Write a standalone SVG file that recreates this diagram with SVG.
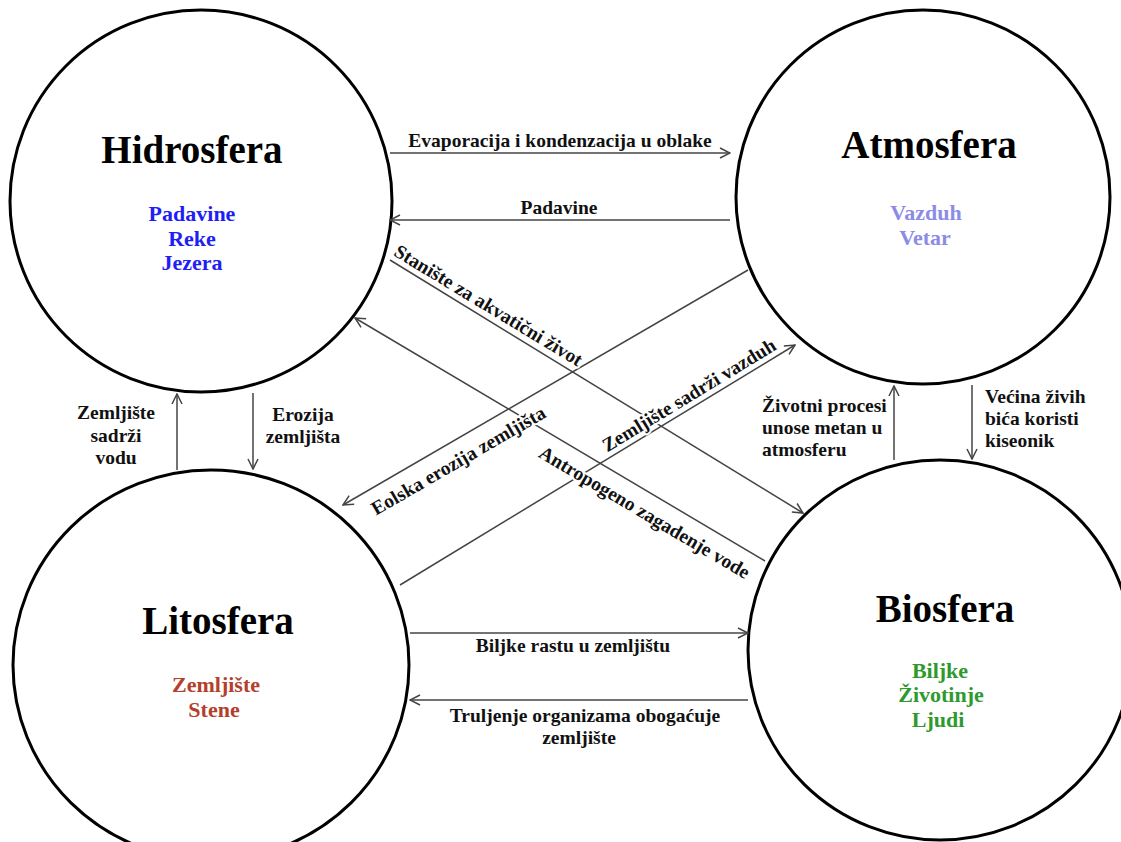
<svg xmlns="http://www.w3.org/2000/svg" width="1121" height="842" viewBox="0 0 1121 842">
<style>
.circ{fill:none;stroke:#000;stroke-width:3}
.title{font-family:"Liberation Serif","Times New Roman",serif;font-weight:bold;font-size:39px;fill:#000;text-anchor:middle}
.sub{font-family:"Liberation Serif","Times New Roman",serif;font-weight:bold;font-size:22px;text-anchor:middle}
.lbl{font-family:"Liberation Serif","Times New Roman",serif;font-weight:bold;font-size:19.5px;fill:#111}
.mid{text-anchor:middle}
.halo{stroke:#fff;stroke-width:4;paint-order:stroke;stroke-linejoin:round}
.edge{fill:none;stroke:#444;stroke-width:1.5}
</style>
<defs>
<marker id="ah" viewBox="0 0 12 12" refX="11" refY="6" markerWidth="12" markerHeight="12" markerUnits="userSpaceOnUse" orient="auto">
<path d="M1,1 L11,6 L1,11" fill="none" stroke="#444" stroke-width="1.5"/>
</marker>
</defs>
<rect width="1121" height="842" fill="#fff"/>

<g id="hidrosfera">
<circle class="circ" cx="201" cy="201" r="191"/>
<text class="title" x="192" y="163">Hidrosfera</text>
<text class="sub" fill="#1e1ef5" x="192" y="221">Padavine</text>
<text class="sub" fill="#1e1ef5" x="192" y="246">Reke</text>
<text class="sub" fill="#1e1ef5" x="192" y="270">Jezera</text>
</g>

<g id="atmosfera">
<circle class="circ" cx="923" cy="197" r="187"/>
<text class="title" x="929" y="158">Atmosfera</text>
<text class="sub" fill="#8c8ce6" x="926" y="220">Vazduh</text>
<text class="sub" fill="#8c8ce6" x="925" y="245">Vetar</text>
</g>

<g id="litosfera">
<ellipse class="circ" cx="211" cy="665" rx="198" ry="195"/>
<text class="title" x="218" y="634">Litosfera</text>
<text class="sub" fill="#b4402c" x="216" y="692">Zemljište</text>
<text class="sub" fill="#b4402c" x="214" y="717">Stene</text>
</g>

<g id="biosfera">
<ellipse class="circ" cx="940" cy="650" rx="192" ry="190"/>
<text class="title" x="945" y="622">Biosfera</text>
<text class="sub" fill="#2e9a2e" x="940" y="678">Biljke</text>
<text class="sub" fill="#2e9a2e" x="941" y="702">Životinje</text>
<text class="sub" fill="#2e9a2e" x="938" y="727">Ljudi</text>
</g>

<g id="connectors">
<path class="edge" d="M390,153 L730,153" marker-end="url(#ah)"/>
<path class="edge" d="M730,220 L390,220" marker-end="url(#ah)"/>
<path class="edge" d="M410,633 L748,633" marker-end="url(#ah)"/>
<path class="edge" d="M748,700 L410,700" marker-end="url(#ah)"/>
<path class="edge" d="M177,470 L177,394" marker-end="url(#ah)"/>
<path class="edge" d="M253,393 L253,469" marker-end="url(#ah)"/>
<path class="edge" d="M894,460 L894,386" marker-end="url(#ah)"/>
<path class="edge" d="M972,385 L972,459" marker-end="url(#ah)"/>
<path class="edge" d="M390,260 L803,513" marker-end="url(#ah)"/>
<path class="edge" d="M765,561 L355,318" marker-end="url(#ah)"/>
<path class="edge" d="M748,270 L343,505" marker-end="url(#ah)"/>
<path class="edge" d="M400,585 L795,345" marker-end="url(#ah)"/>

<text class="lbl mid" x="560" y="147">Evaporacija i kondenzacija u oblake</text>
<text class="lbl mid" x="559" y="214">Padavine</text>
<text class="lbl mid" x="573" y="652">Biljke rastu u zemljištu</text>
<text class="lbl mid" x="585" y="722">Truljenje organizama obogaćuje</text>
<text class="lbl mid" x="579" y="744">zemljište</text>
<text class="lbl mid" x="116" y="419">Zemljište</text>
<text class="lbl mid" x="116" y="442">sadrži</text>
<text class="lbl mid" x="116" y="464">vodu</text>
<text class="lbl mid" x="303" y="421">Erozija</text>
<text class="lbl mid" x="303" y="443">zemljišta</text>
<text class="lbl" x="762" y="412">Životni procesi</text>
<text class="lbl" x="762" y="434">unose metan u</text>
<text class="lbl" x="762" y="456">atmosferu</text>
<text class="lbl" x="985" y="403">Većina živih</text>
<text class="lbl" x="985" y="425">bića koristi</text>
<text class="lbl" x="985" y="447">kiseonik</text>

<text class="lbl mid halo" transform="translate(482,316) rotate(31.2)" x="0" y="-6">Stanište za akvatični život</text>
<text class="lbl mid halo" transform="translate(654.5,495.6) rotate(30.65)" x="0" y="26">Antropogeno zagadenje vode</text>
<text class="lbl mid halo" transform="translate(448.6,443.7) rotate(-30.1)" x="0" y="26">Eolska erozija zemljišta</text>
<text class="lbl mid halo" transform="translate(695,405) rotate(-31.3)" x="0" y="-5">Zemljište sadrži vazduh</text>
</g>
</svg>
